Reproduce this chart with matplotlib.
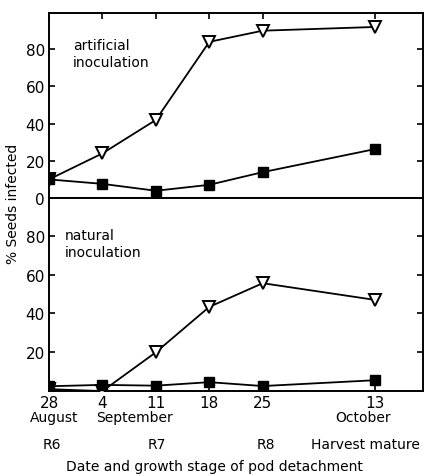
import numpy as np
import matplotlib
matplotlib.use("Agg")
import matplotlib.pyplot as plt

# detachment dates (positions on a compressed axis, 1 unit = 1 week)
x_pos = [0, 1, 2, 3, 4, 6.1]
day_labels = ["28", "4", "11", "18", "25", "13"]
month_labels = ["August", "September", "October"]
month_pos = [0.1, 1.6, 5.88]
stage_labels = ["R6", "R7", "R8", "Harvest mature"]
stage_pos = [0.06, 2.02, 4.06, 5.92]

# % seeds infected
art_open = [10, 24, 42, 84, 90, 92]
art_filled = [10, 7.6, 3.9, 7.1, 13.9, 26.3]
nat_open = [1, 0, 20, 43.4, 55.6, 47]
nat_filled = [2.5, 3.2, 2.8, 4.6, 2.6, 5.6]

plt.rcParams['font.family'] = ['DejaVu Sans']

fig = plt.figure(figsize=(4.25, 4.77), dpi=100)
ax1 = fig.add_axes([0.1153, 0.5828, 0.8800, 0.3878])
ax2 = fig.add_axes([0.1153, 0.1780, 0.8800, 0.4048])


def draw(ax, tri, sq):
    ax.plot(x_pos, tri, color='black', lw=1.3, marker='v', ms=9,
            mfc='white', mec='black', mew=1.4, zorder=3)
    ax.plot(x_pos, sq, color='black', lw=1.3, marker='s', ms=6.5,
            mfc='black', mec='black', zorder=4)
    # the first point: open and filled symbols overlap
    ax.plot(x_pos[:1], tri[:1], marker='v', ms=9, color='black',
            ls='none', zorder=5)
    ax.set_xlim(0, 7.0)
    ax.set_ylim(0, 99.5)
    ax.set_xticks(x_pos)
    ax.tick_params(direction='in', length=4, width=1.2, top=True,
                   right=True, labelsize=11, pad=3)
    for s in ax.spines.values():
        s.set_linewidth(1.4)


draw(ax1, art_open, art_filled)
ax1.set_yticks([0, 20, 40, 60, 80])
ax1.tick_params(labelbottom=False, bottom=False)
ax1.text(0.45, 86, "artificial\ninoculation", fontsize=10, va='top',
         ha='left', linespacing=1.3)

draw(ax2, nat_open, nat_filled)
ax2.set_yticks([20, 40, 60, 80])
ax2.tick_params(top=False)
ax2.set_xticklabels(day_labels, fontsize=11)
ax2.text(0.3, 84, "natural\ninoculation", fontsize=10, va='top',
         ha='left', linespacing=1.3)

for lab, p in zip(month_labels, month_pos):
    ax2.text(p, -0.135, lab, transform=ax2.get_xaxis_transform(),
             ha='center', va='center', fontsize=10)
for lab, p in zip(stage_labels, stage_pos):
    ax2.text(p, -0.275, lab, transform=ax2.get_xaxis_transform(),
             ha='center', va='center', fontsize=10)

fig.text(0.505, 0.021, "Date and growth stage of pod detachment",
         ha='center', va='center', fontsize=10)
fig.text(0.03, 0.572, "% Seeds infected", rotation=90, ha='center',
         va='center', fontsize=10)

fig.savefig("out.png", dpi=100)
